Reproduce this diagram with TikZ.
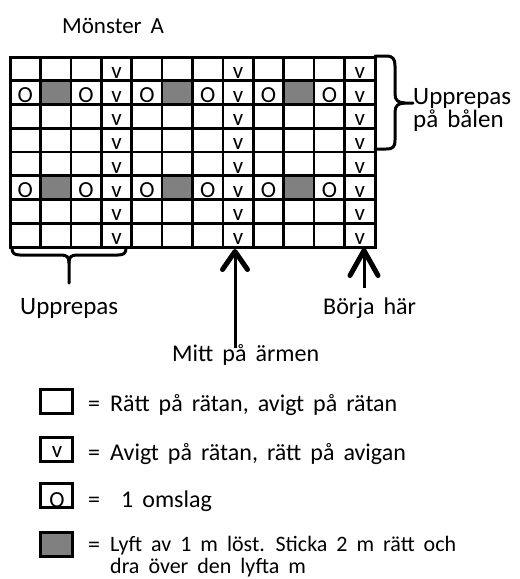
\documentclass[tikz,border=0pt]{standalone}
\usepackage{fontspec}
\setmainfont{Carlito}
\usetikzlibrary{arrows.meta}
\definecolor{cellgray}{RGB}{128,128,128}
\newcommand\widesp{\spaceskip 9pt\relax}
\begin{document}
\begin{tikzpicture}[x=1pt,y=-1pt,
  gridline/.style={line width=2.6pt},
  outerline/.style={line width=3pt},
  bracestroke/.style={line width=3pt,line cap=round,line join=round},
  celltext/.style={anchor=base,inner sep=0pt,font=\fontsize{23}{23}\selectfont},
  lbl/.style={anchor=base west,inner sep=0pt,font=\fontsize{24}{24}\selectfont\widesp},
  biglbl/.style={anchor=base west,inner sep=0pt,font=\fontsize{25}{25}\selectfont\widesp},
  titlelbl/.style={anchor=base west,inner sep=0pt,font=\fontsize{23}{23}\selectfont\widesp},
  legbox/.style={draw,line width=3pt,minimum width=32pt,minimum height=24pt,inner sep=0pt},
  connector/.style={line width=3pt,-{Straight Barb[length=18pt,width=25pt,line width=5pt,round]}},
  connectorb/.style={line width=3pt,-{Straight Barb[length=25pt,width=28pt,line width=5pt,round]}}]
\useasboundingbox (0,0) rectangle (520,579);
\def\cw{30.4167}
\def\rh{23.75}
% gray cells
\foreach \r in {1,5}{
  \foreach \c in {1,5,9}{
    \fill[cellgray] ({10+\c*\cw},{57+\r*\rh}) rectangle ({10+(\c+1)*\cw},{57+(\r+1)*\rh});
  }
}
% grid lines
\foreach \c in {1,...,11}{
  \draw[gridline] ({10+\c*\cw},57) -- ({10+\c*\cw},247);
}
\foreach \r in {1,...,7}{
  \draw[gridline] (10,{57+\r*\rh}) -- (375,{57+\r*\rh});
}
\draw[outerline] (10,57) rectangle (375,247);
% cell texts
\foreach \r in {0,...,7}{
  \foreach \c in {3,7,11}{
    \node[celltext] (v\r-\c) at ({10+(\c+0.5)*\cw},{57+(\r+1)*\rh-2.5}) {v};
  }
}
\foreach \r in {1,5}{
  \foreach \c in {0,2,4,6,8,10}{
    \node[celltext] (o\r-\c) at ({10+(\c+0.5)*\cw},{57+(\r+1)*\rh-2}) {O};
  }
}
% title
\node[titlelbl] (title) at (62,33) {Mönster A};
% right brace
\draw[bracestroke] (375,56) -- (386,56) .. controls (393,56) and (395,59) .. (395,66) -- (395,94)
  .. controls (395,100) and (398,103) .. (405,103) -- (413,103);
\draw[bracestroke] (405,103) .. controls (398,103) and (395,106) .. (395,112) -- (395,140)
  .. controls (395,147) and (393,149) .. (386,149) -- (375,149);
\node[biglbl] (rep1) at (413,104) {Upprepas};
\node[biglbl] (rep2) at (413,127) {på bålen};
% bottom brace
\draw[bracestroke] (12,248) .. controls (12,253) and (14,255) .. (20,255) -- (61,255)
  .. controls (67,255) and (69,257) .. (69,263) -- (69,283);
\draw[bracestroke] (126,248) .. controls (126,253) and (124,255) .. (118,255) -- (77,255)
  .. controls (71,255) and (69,257) .. (69,263);
\node[biglbl] (repbottom) at (20,314) {Upprepas};
% arrows
\node[lbl] (mitt) at (172,361) {Mitt på ärmen};
\coordinate (mittfoot) at (235,348);
\coordinate (mitttip) at (235,249);
\draw[connector] (mittfoot) -- (mitttip);
\node[lbl] (borja) at (323,314) {Börja här};
\coordinate (borjafoot) at (364,288);
\coordinate (borjatip) at (364,248);
\draw[connectorb] (borjafoot) -- (borjatip);
% legend
\node[legbox] (k1) at (56,401) {};
\node[legbox] (k2) at (56,449.5) {};
\node[celltext] (k2t) at (57,457) {v};
\node[legbox] (k3) at (56,495.5) {};
\node[celltext] (k3t) at (57,507) {O};
\node[legbox,fill=cellgray] (k4) at (56,544.5) {};
\node[lbl] (e1) at (88,411) {=};
\node[lbl] (e2) at (88,460) {=};
\node[lbl] (e3) at (88,507) {=};
\node[lbl] (e4) at (88,552) {=};
\node[lbl] (t1) at (110,411) {Rätt på rätan, avigt på rätan};
\node[lbl] (t2) at (110,460) {Avigt på rätan, rätt på avigan};
\node[lbl] (t3) at (121,507) {1 omslag};
\node[anchor=base west,inner sep=0pt,align=left,
  font=\fontsize{22}{22}\selectfont\widesp] (t4) at (110,573)
  {Lyft av 1 m löst. Sticka 2 m rätt och\\dra över den lyfta m};
\end{tikzpicture}
\end{document}
